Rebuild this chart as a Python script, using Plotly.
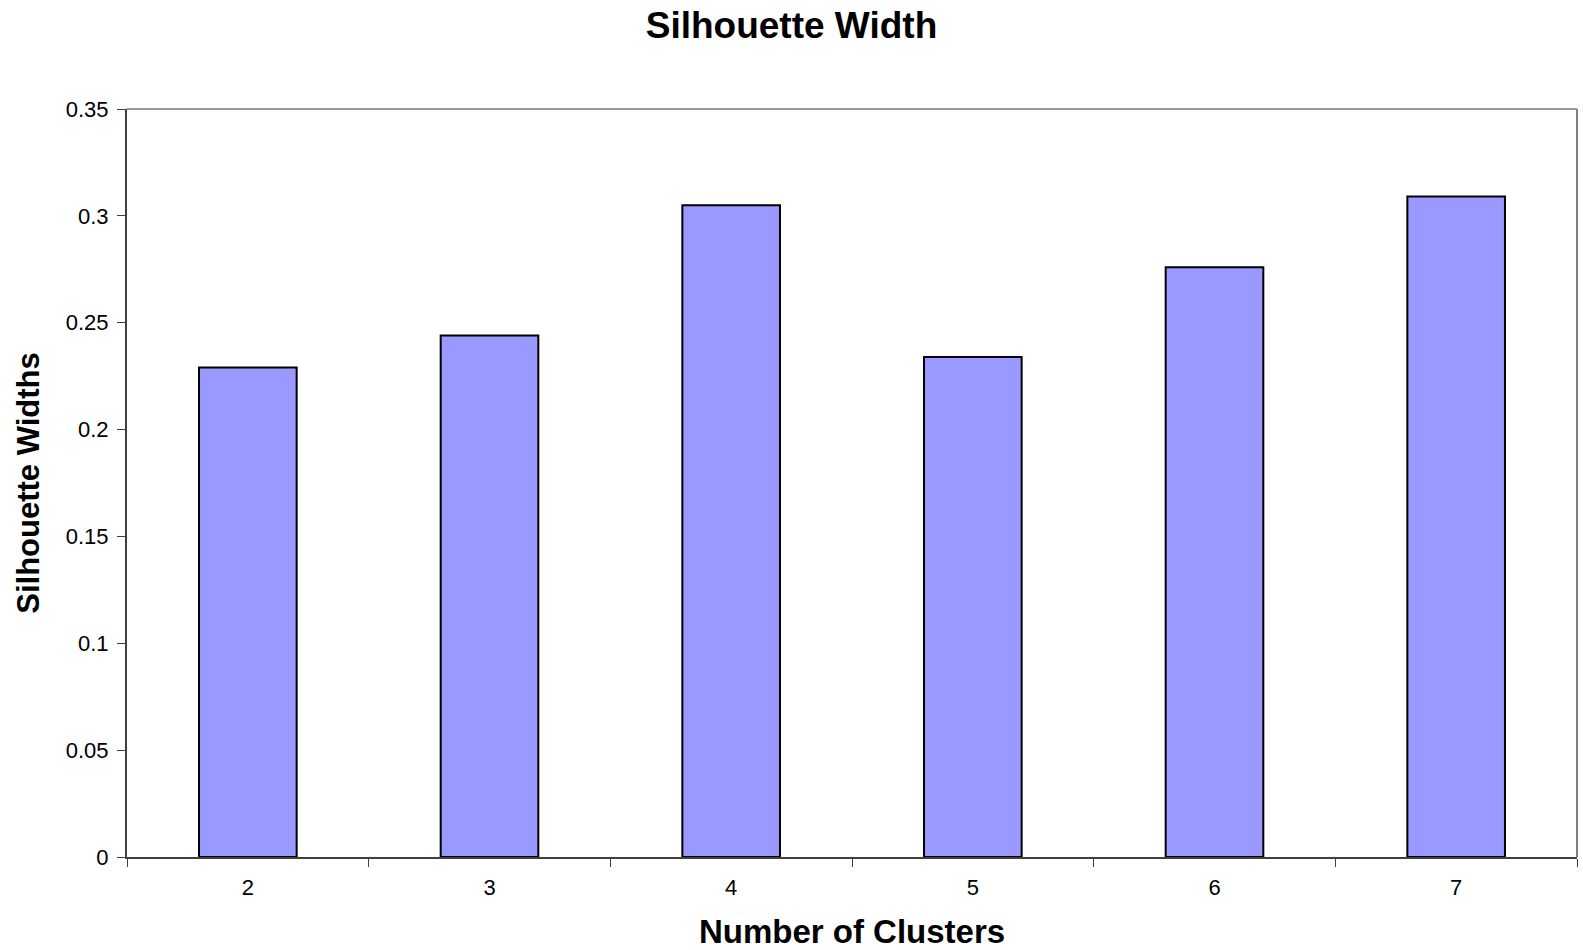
import plotly.graph_objects as go

# Average silhouette width for each candidate cluster count
clusters = ["2", "3", "4", "5", "6", "7"]
silhouette = [0.229, 0.244, 0.305, 0.234, 0.276, 0.309]

y_ticks = [0, 0.05, 0.1, 0.15, 0.2, 0.25, 0.3, 0.35]
y_tick_text = ["0", "0.05", "0.1", "0.15", "0.2", "0.25", "0.3", "0.35"]

FONT = "Arial, Liberation Sans, sans-serif"

fig = go.Figure(
    go.Bar(
        x=clusters,
        y=silhouette,
        marker=dict(color="#9999FF", line=dict(color="#000000", width=2)),
    )
)

fig.update_layout(
    width=1583,
    height=950,
    margin=dict(l=127, r=6, t=109, b=93),
    paper_bgcolor="white",
    plot_bgcolor="white",
    bargap=0.596,
    showlegend=False,
    font=dict(family=FONT, color="black"),
    title=dict(
        text="<b>Silhouette Width</b>",
        x=0.5,
        xref="container",
        xanchor="center",
        y=1 - 25 / 950,
        yref="container",
        yanchor="middle",
        font=dict(size=37, family=FONT, color="black"),
    ),
    xaxis=dict(
        type="category",
        showgrid=False,
        showline=True,
        linecolor="#404040",
        linewidth=2,
        ticks="outside",
        tickson="boundaries",
        ticklen=8,
        tickcolor="#404040",
        ticklabelstandoff=10,
        tickfont=dict(size=22, family=FONT, color="black"),
        title=dict(
            text="<b>Number of Clusters</b>",
            font=dict(size=33, family=FONT, color="black"),
            standoff=21,
        ),
    ),
    yaxis=dict(
        range=[0, 0.35],
        tickvals=y_ticks,
        ticktext=y_tick_text,
        showgrid=False,
        zeroline=False,
        showline=True,
        linecolor="#404040",
        linewidth=2,
        ticks="outside",
        ticklen=8,
        tickcolor="#404040",
        ticklabelstandoff=4,
        tickfont=dict(size=22, family=FONT, color="black"),
        title=dict(
            text="<b>Silhouette Widths</b>",
            font=dict(size=31, family=FONT, color="black"),
            standoff=17,
        ),
    ),
)

# Plot-area frame on the top and right sides
fig.add_shape(type="line", xref="paper", yref="paper", x0=0, x1=1, y0=1, y1=1,
              line=dict(color="#999999", width=2))
fig.add_shape(type="line", xref="paper", yref="paper", x0=1, x1=1, y0=0, y1=1,
              line=dict(color="#808080", width=2))

fig.write_html("out.html")
